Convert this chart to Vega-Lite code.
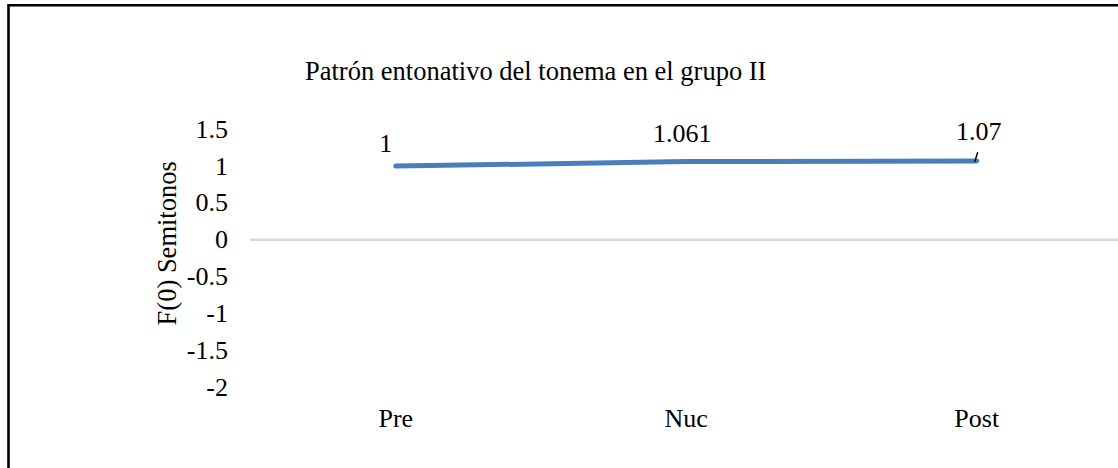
{
  "$schema": "https://vega.github.io/schema/vega-lite/v6.json",
  "autosize": {"type": "none"},
  "padding": {"left": 8.5, "top": 5.3, "right": -12.5, "bottom": -12.3},
  "width": 1122,
  "height": 475,
  "background": "white",
  "title": {
    "text": "Patrón entonativo del tonema en el grupo II",
    "anchor": "start",
    "frame": "group",
    "dx": 296.5,
    "offset": -101,
    "baseline": "alphabetic",
    "font": "Liberation Serif",
    "fontSize": 26.5,
    "fontWeight": "normal",
    "color": "black"
  },
  "config": {
    "view": {"stroke": "black", "strokeWidth": 2.6, "fill": "white"},
    "font": "Liberation Serif"
  },
  "data": {
    "values": [
      {"pos": "Pre", "f0": 1},
      {"pos": "Nuc", "f0": 1.061},
      {"pos": "Post", "f0": 1.07}
    ]
  },
  "encoding": {
    "x": {
      "field": "pos",
      "type": "nominal",
      "sort": ["Pre", "Nuc", "Post"],
      "scale": {"type": "band", "paddingInner": 0, "paddingOuter": 0.4312, "align": 0.966},
      "axis": {
        "title": null,
        "domain": false,
        "ticks": false,
        "tickSize": 0,
        "labelAngle": 0,
        "labelFont": "Liberation Serif",
        "labelFontSize": 26,
        "labelColor": "black",
        "offset": -93,
        "labelPadding": 18,
        "labelBaseline": "top"
      }
    },
    "y": {
      "field": "f0",
      "type": "quantitative",
      "scale": {"domain": [-3.263, 3.182], "nice": false, "zero": false},
      "axis": {
        "values": [-2, -1.5, -1, -0.5, 0, 0.5, 1, 1.5],
        "labelExpr": "toString(datum.value)",
        "grid": false,
        "domain": false,
        "ticks": false,
        "tickSize": 0,
        "offset": -242,
        "labelPadding": 23,
        "labelFont": "Liberation Serif",
        "labelFontSize": 26,
        "labelColor": "black",
        "title": "F(0) Semitonos",
        "titleFont": "Liberation Serif",
        "titleFontSize": 26.5,
        "titleFontWeight": "normal",
        "titleColor": "black",
        "titlePadding": 5
      }
    }
  },
  "layer": [
    {
      "mark": {"type": "rule", "color": "#D9D9D9", "strokeWidth": 2},
      "encoding": {
        "x": {"datum": "Pre", "bandPosition": 0},
        "x2": {"datum": "Post", "bandPosition": 1},
        "y": {"datum": 0}
      }
    },
    {
      "mark": {"type": "line", "color": "#4A7EBB", "strokeWidth": 5, "strokeCap": "round"},
      "encoding": {}
    },
    {
      "transform": [{"filter": "datum.pos === 'Pre'"}],
      "mark": {"type": "text", "baseline": "alphabetic", "dx": -10, "dy": -14, "fontSize": 26, "font": "Liberation Serif", "color": "black"},
      "encoding": {"text": {"field": "f0", "type": "quantitative", "format": ".4~f"}}
    },
    {
      "transform": [{"filter": "datum.pos === 'Nuc'"}],
      "mark": {"type": "text", "baseline": "alphabetic", "dx": -4, "dy": -19.5, "fontSize": 26, "font": "Liberation Serif", "color": "black"},
      "encoding": {"text": {"field": "f0", "type": "quantitative", "format": ".4~f"}}
    },
    {
      "transform": [{"filter": "datum.pos === 'Post'"}],
      "mark": {"type": "text", "baseline": "alphabetic", "dx": 2, "dy": -20.5, "fontSize": 26, "font": "Liberation Serif", "color": "black"},
      "encoding": {"text": {"field": "f0", "type": "quantitative", "format": ".4~f"}}
    },
    {
      "transform": [{"filter": "datum.pos === 'Post'"}],
      "mark": {"type": "rule", "color": "black", "strokeWidth": 1.5, "xOffset": -2, "x2Offset": 1},
      "encoding": {
        "x2": {"field": "pos"},
        "y": {"datum": 1.06},
        "y2": {"datum": 1.19}
      }
    }
  ]
}
